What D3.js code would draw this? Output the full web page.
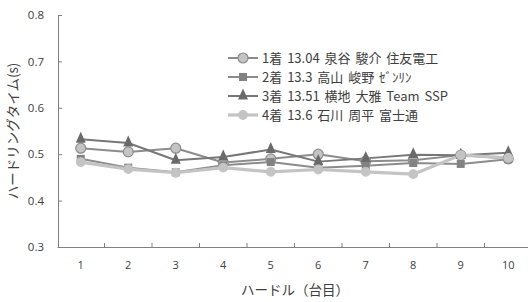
<!DOCTYPE html>
<html><head><meta charset="utf-8">
<script src="https://cdn.jsdelivr.net/npm/d3@7"></script>
<style>body{margin:0;background:#fff;}svg{display:block;font-family:"Noto Sans CJK JP","Open Sans",sans-serif;}</style>
</head><body><svg id="c" width="528" height="302"></svg>
<script>
const categories = ["1","2","3","4","5","6","7","8","9","10"];
const seriesNames = ["1着 13.04 泉谷 駿介 住友電工","2着 13.3 高山 峻野 ｾﾞﾝﾘﾝ","3着 13.51 横地 大雅 Team SSP","4着 13.6 石川 周平 富士通"];
const s1 = [0.513,0.505,0.513,0.482,0.490,0.500,0.485,0.487,0.498,0.490];
const s2 = [0.490,0.471,0.461,0.476,0.483,0.471,0.475,0.481,0.479,0.489];
const s3 = [0.532,0.524,0.487,0.494,0.510,0.484,0.491,0.499,0.498,0.503];
const s4 = [0.483,0.468,0.460,0.471,0.462,0.467,0.462,0.457,0.498,0.492];
const yTicks = [0.3,0.4,0.5,0.6,0.7,0.8];
const xTitle = "ハードル（台目）";
const yTitle = "ハードリングタイム(s)";

const svg = d3.select("#c");
const x = d3.scaleBand().domain(categories).range([57,532]);
const y = d3.scaleLinear().domain([0.3,0.8]).range([247,15]);
const tc = "#404040";

const ya = svg.append("g").attr("transform","translate(58,0)")
  .call(d3.axisLeft(y).tickValues(yTicks).tickFormat(d3.format(".1f")).tickSize(4).tickSizeOuter(0));
ya.select(".domain").attr("stroke","#808080");
ya.selectAll(".tick line").attr("stroke","#808080").attr("x2",4).attr("x1",0);
ya.selectAll("text").attr("x",-14).attr("fill",tc).style("font-family","'Open Sans',sans-serif").style("font-size","11.5px");

const xa = svg.append("g").attr("transform","translate(0,247)")
  .call(d3.axisBottom(x).tickSize(0).tickSizeOuter(0));
xa.select(".domain").attr("stroke","#808080");
xa.selectAll("text").attr("dy","0").attr("y",22).attr("fill",tc).style("font-family","'Open Sans',sans-serif").style("font-size","11px");
svg.append("g").selectAll("line").data(categories.slice(1)).join("line")
  .attr("x1",d=>x(d)).attr("x2",d=>x(d)).attr("y1",243).attr("y2",247).attr("stroke","#808080");

svg.append("text").attr("x",295).attr("y",295).attr("text-anchor","middle").attr("fill",tc)
  .style("font-size","13.5px").text(xTitle);
svg.append("text").attr("transform","translate(18,131) rotate(-90)").attr("text-anchor","middle").attr("fill",tc)
  .style("font-size","13.5px").text(yTitle);

const cx = d=>x(d)+x.bandwidth()/2;
const series = [
  {name:seriesNames[0], v:s1, line:"#8c8c8c", lw:2, marker:"circle", fill:"#c4c4c4", stroke:"#8c8c8c", size:5},
  {name:seriesNames[1], v:s2, line:"#8c8c8c", lw:2, marker:"square", fill:"#828282", stroke:"#828282", size:4},
  {name:seriesNames[2], v:s3, line:"#777777", lw:2, marker:"triangle", fill:"#6a6a6a", stroke:"#6a6a6a", size:5},
  {name:seriesNames[3], v:s4, line:"#c4c4c4", lw:3.2, marker:"circle", fill:"#c4c4c4", stroke:"#c4c4c4", size:4.3}
];
function drawMarker(g, s, px, py){
  if(s.marker==="circle"){
    g.append("circle").attr("cx",px).attr("cy",py).attr("r",s.size).attr("fill",s.fill).attr("stroke",s.stroke).attr("stroke-width",1.2);
  } else if(s.marker==="square"){
    g.append("rect").attr("x",px-s.size).attr("y",py-s.size).attr("width",s.size*2).attr("height",s.size*2).attr("fill",s.fill);
  } else {
    const r=s.size;
    g.append("path").attr("d",`M${px},${py-r*1.5}L${px+r},${py+r*0.7}L${px-r},${py+r*0.7}Z`).attr("fill",s.fill);
  }
}
const line = d3.line().x((d,i)=>cx(categories[i])).y(d=>y(d));
series.forEach(s=>{
  svg.append("path").datum(s.v).attr("d",line).attr("fill","none").attr("stroke",s.line).attr("stroke-width",s.lw).attr("stroke-linejoin","round");
});
series.forEach(s=>{
  const g=svg.append("g");
  s.v.forEach((v,i)=>drawMarker(g,s,cx(categories[i]),y(v)));
});

const lg = svg.append("g");
series.forEach((s,i)=>{
  const yy = 58 + i*19;
  lg.append("line").attr("x1",228).attr("x2",258).attr("y1",yy).attr("y2",yy).attr("stroke",s.line).attr("stroke-width",s.lw);
  drawMarker(lg,s,243,yy);
  lg.append("text").attr("x",262).attr("y",yy+4.5).attr("fill",tc).style("font-size","13px").style("word-spacing","2px").text(s.name);
});
</script></body></html>
